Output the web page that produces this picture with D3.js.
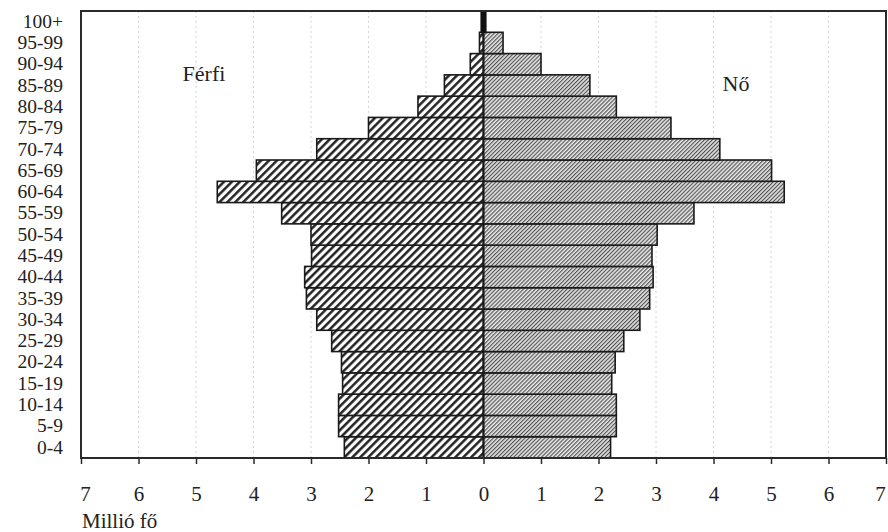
<!DOCTYPE html>
<html>
<head>
<meta charset="utf-8"/>
<script src="https://d3js.org/d3.v7.min.js"></script>
<style type="text/css">
body {
  margin: 0;
  background: #fff;
  overflow: hidden;
}
text {
  font-family: "Liberation Serif", "DejaVu Serif", serif;
  fill: #222;
}
</style>
</head>
<body>
<div id="v"></div>
<script type="text/javascript">
// age groups, bottom to top
var ageGroups = ["0-4", "5-9", "10-14", "15-19", "20-24", "25-29", "30-34", "35-39",
  "40-44", "45-49", "50-54", "55-59", "60-64", "65-69", "70-74", "75-79",
  "80-84", "85-89", "90-94", "95-99", "100+"];
// millió fő
var male = [2.42, 2.52, 2.52, 2.45, 2.47, 2.64, 2.90, 3.08,
  3.11, 2.99, 3.00, 3.51, 4.63, 3.95, 2.90, 2.00,
  1.14, 0.68, 0.23, 0.07, 0.04];
var female = [2.21, 2.31, 2.31, 2.23, 2.29, 2.44, 2.72, 2.89,
  2.95, 2.93, 3.02, 3.66, 5.23, 5.01, 4.11, 3.26,
  2.31, 1.85, 1.00, 0.34, 0.04];
var xTicks = [-7, -6, -5, -4, -3, -2, -1, 0, 1, 2, 3, 4, 5, 6, 7];

var width = 888, height = 532;
var plotLeft = 81, plotRight = 886, plotTop = 11, plotBottom = 458;

var svg = d3.select("#v").append("svg")
  .attr("width", width)
  .attr("height", height);

var x = d3.scaleLinear().domain([-7, 7]).range([plotLeft, plotRight]);
var y = d3.scaleBand().domain(ageGroups.slice().reverse()).range([plotTop, plotBottom]).padding(0);

var defs = svg.append("defs");
defs.append("pattern")
  .attr("id", "hatchMale")
  .attr("patternUnits", "userSpaceOnUse")
  .attr("width", 5.6).attr("height", 5.6)
  .attr("patternTransform", "rotate(45)")
  .call(function(p) {
    p.append("rect").attr("width", 5.6).attr("height", 5.6).attr("fill", "#fff");
    p.append("line").attr("x1", 1.3).attr("x2", 1.3).attr("y1", 0).attr("y2", 5.6)
      .attr("stroke", "#1a1a1a").attr("stroke-width", 2.4);
  });
defs.append("pattern")
  .attr("id", "hatchFemale")
  .attr("patternUnits", "userSpaceOnUse")
  .attr("width", 2.8).attr("height", 2.8)
  .attr("patternTransform", "rotate(45)")
  .call(function(p) {
    p.append("rect").attr("width", 2.8).attr("height", 2.8).attr("fill", "#e8e8e8");
    p.append("line").attr("x1", 0.6).attr("x2", 0.6).attr("y1", 0).attr("y2", 2.8)
      .attr("stroke", "#4a4a4a").attr("stroke-width", 1.1);
  });

// gridlines
svg.append("g")
  .selectAll("line")
  .data(xTicks.filter(function(d) { return d !== 0 && Math.abs(d) !== 7; }))
  .enter().append("line")
  .attr("x1", function(d) { return x(d); })
  .attr("x2", function(d) { return x(d); })
  .attr("y1", plotTop)
  .attr("y2", plotBottom)
  .attr("stroke", "#d4d4d4")
  .attr("stroke-width", 1)
  .attr("stroke-dasharray", "2,3");

// bars
svg.append("g")
  .selectAll("rect")
  .data(male)
  .enter().append("rect")
  .attr("x", function(d) { return x(-d); })
  .attr("y", function(d, i) { return y(ageGroups[i]); })
  .attr("width", function(d) { return x(0) - x(-d); })
  .attr("height", y.bandwidth())
  .attr("fill", "url(#hatchMale)")
  .attr("stroke", "#1a1a1a")
  .attr("stroke-width", 1.6);

svg.append("g")
  .selectAll("rect")
  .data(female)
  .enter().append("rect")
  .attr("x", x(0))
  .attr("y", function(d, i) { return y(ageGroups[i]); })
  .attr("width", function(d) { return x(d) - x(0); })
  .attr("height", y.bandwidth())
  .attr("fill", "url(#hatchFemale)")
  .attr("stroke", "#1a1a1a")
  .attr("stroke-width", 1.6);

// center line
svg.append("line")
  .attr("x1", x(0)).attr("x2", x(0))
  .attr("y1", y("95-99")).attr("y2", plotBottom)
  .attr("stroke", "#1a1a1a").attr("stroke-width", 1.8);
svg.append("line")
  .attr("x1", x(0)).attr("x2", x(0))
  .attr("y1", plotTop).attr("y2", y("95-99"))
  .attr("stroke", "#111").attr("stroke-width", 5);

// frame
svg.append("rect")
  .attr("x", plotLeft).attr("y", plotTop)
  .attr("width", plotRight - plotLeft).attr("height", plotBottom - plotTop)
  .attr("fill", "none")
  .attr("stroke", "#2a2a2a")
  .attr("stroke-width", 2);

// x axis
var xAxis = d3.axisBottom(x)
  .tickValues(xTicks)
  .tickSize(6)
  .tickPadding(22)
  .tickFormat(function(d) { return Math.abs(d); });
var gx = svg.append("g")
  .attr("transform", "translate(0," + plotBottom + ")")
  .call(xAxis);
gx.select(".domain").remove();
gx.selectAll(".tick line").attr("stroke", "#2a2a2a").attr("stroke-width", 1.5);
gx.selectAll(".tick text")
  .style("font-family", "'Liberation Serif', serif")
  .style("font-size", "21px")
  .attr("fill", "#222")
  .attr("dx", function(d) { return d === 7 ? -6 : (d === -7 ? 4 : 0); });

// y axis labels
var yAxis = d3.axisLeft(y).tickSize(0).tickPadding(18);
var gy = svg.append("g")
  .attr("transform", "translate(" + plotLeft + ",0)")
  .call(yAxis);
gy.select(".domain").remove();
gy.selectAll(".tick text")
  .style("font-family", "'Liberation Serif', serif")
  .style("font-size", "19.5px")
  .attr("fill", "#222");

svg.append("text")
  .attr("x", 204).attr("y", 81)
  .attr("text-anchor", "middle")
  .style("font-size", "22px")
  .text("Férfi");
svg.append("text")
  .attr("x", 736).attr("y", 91)
  .attr("text-anchor", "middle")
  .style("font-size", "22px")
  .text("Nő");
svg.append("text")
  .attr("x", plotLeft + 1).attr("y", 528)
  .style("font-size", "21px")
  .text("Millió fő");
</script>
</body>
</html>
